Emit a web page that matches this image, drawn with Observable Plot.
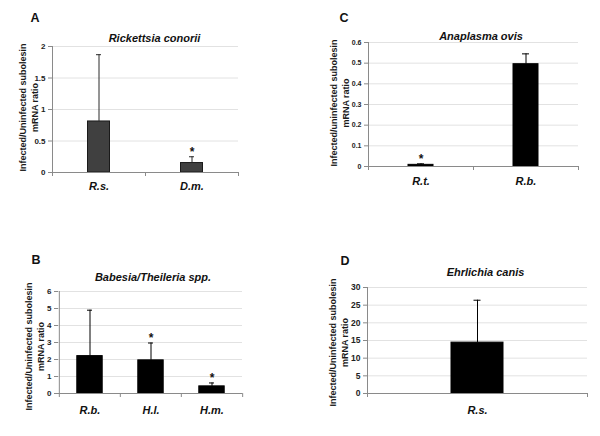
<!DOCTYPE html>
<html><head><meta charset="utf-8">
<script src="https://cdn.jsdelivr.net/npm/d3@7"></script>
<script src="https://cdn.jsdelivr.net/npm/@observablehq/plot@0.6"></script>
<style>
body{margin:0;background:#fff}
#fig{position:relative;width:600px;height:436px;background:#fff;overflow:hidden}
#fig svg{position:absolute}
</style></head><body><div id="fig"></div>
<script>
// ---- Panel A: Rickettsia conorii ----
const catsA = ["R.s.", "D.m."];
const meansA = [0.81, 0.15];
const errsA = [1.06, 0.10];
const starsA = [false, true];
const ticksA = [0, 0.5, 1, 1.5, 2];

// ---- Panel B: Babesia/Theileria spp. ----
const catsB = ["R.b.", "H.l.", "H.m."];
const meansB = [2.2, 1.95, 0.42];
const errsB = [2.7, 1.02, 0.2];
const starsB = [false, true, true];
const ticksB = [0, 1, 2, 3, 4, 5, 6];

// ---- Panel C: Anaplasma ovis ----
const catsC = ["R.t.", "R.b."];
const meansC = [0.008, 0.495];
const errsC = [0.005, 0.05];
const starsC = [true, false];
const ticksC = [0, 0.1, 0.2, 0.3, 0.4, 0.5, 0.6];

// ---- Panel D: Ehrlichia canis ----
const catsD = ["R.s."];
const meansD = [14.4];
const errsD = [12.0];
const starsD = [false];
const ticksD = [0, 5, 10, 15, 20, 25, 30];

const FONT = "'Liberation Sans', Arial, Helvetica, sans-serif";

function panel(o) {
  const data = o.cats.map((c, i) => ({cat: c, mean: o.means[i], top: o.means[i] + o.errs[i], star: o.stars[i]}));
  const innerW = o.width - o.margin[3] - o.margin[1];
  const half = innerW / o.cats.length / 2;
  const ymax = o.ticks[o.ticks.length - 1];
  const first = o.cats[0], last = o.cats[o.cats.length - 1];
  const svg = Plot.plot({
    width: o.width, height: o.height,
    marginTop: o.margin[0], marginRight: o.margin[1], marginBottom: o.margin[2], marginLeft: o.margin[3],
    style: {fontFamily: FONT, background: "transparent", overflow: "visible", color: "#1a1a1a"},
    x: {domain: o.cats, padding: 0, label: null},
    y: {domain: [0, ymax], label: null},
    marks: [
      Plot.ruleY(o.ticks.slice(1), {stroke: "#e2e2e2"}),
      Plot.barY(data, {x: "cat", y: "mean", fill: o.fill, stroke: o.barStroke, strokeWidth: 1, insetLeft: o.barInset, insetRight: o.barInset}),
      Plot.ruleX(data, {x: "cat", y1: "mean", y2: "top", stroke: o.errStroke}),
      Plot.tickY(data, {x: "cat", y: "top", stroke: o.errStroke, insetLeft: o.capInset, insetRight: o.capInset}),
      Plot.text(data.filter(d => d.star), {x: "cat", y: "top", text: () => "*", dy: -5, fontSize: 12, fontWeight: "bold", fill: "#111"}),
      Plot.ruleY([0], {stroke: "#8a8a8a"}),
      Plot.ruleX([first], {x: d => d, y1: 0, y2: ymax, dx: -half, stroke: "#8a8a8a"}),
      Plot.ruleX(o.cats, {x: d => d, y1: 0, y2: 0, insetBottom: -4, dx: -half, stroke: "#8a8a8a"}),
      Plot.ruleX([last], {x: d => d, y1: 0, y2: 0, insetBottom: -4, dx: half, stroke: "#8a8a8a"}),
      Plot.axisY({ticks: o.ticks, tickFormat: d => String(d), tickSize: 4, tickPadding: 3, stroke: "#8a8a8a", fill: "#222", fontSize: o.tickFont, fontWeight: "bold", label: null}),
      Plot.axisX({tickSize: 0, tickPadding: o.catPad, fontSize: 11, fontWeight: "bold", fontStyle: "italic", fill: "#111", label: null}),
      Plot.text([o.title], {frameAnchor: "top", dx: o.titleD[0], dy: o.titleD[1], fontSize: 11, fontWeight: "bold", fontStyle: "italic", fill: "#111"}),
      Plot.text([o.letter], {frameAnchor: "top-left", dx: o.letterD[0], dy: o.letterD[1], fontSize: 12.5, fontWeight: "bold", fill: "#111"}),
      Plot.text([o.ylabel], {frameAnchor: "left", textAnchor: "middle", rotate: -90, dx: o.ylabD[0], dy: o.ylabD[1], fontSize: 9, fontWeight: "bold", lineHeight: 1.3, fill: "#1a1a1a"})
    ]
  });
  svg.style.left = o.left + "px";
  svg.style.top = o.top + "px";
  document.getElementById("fig").appendChild(svg);
}

panel({letter: "A", title: "Rickettsia conorii", ylabel: "Infected/Uninfected subolesin\nmRNA ratio",
  cats: catsA, means: meansA, errs: errsA, stars: starsA, ticks: ticksA,
  fill: "#404040", barStroke: "#1a1a1a", errStroke: "#2a2a2a",
  left: 0, top: 0, width: 300, height: 200, margin: [46, 62, 28, 52],
  barInset: 35.5, capInset: 44, tickFont: 8, catPad: 10,
  titleD: [9, -12], letterD: [-22, -33], ylabD: [-24, -2]});

panel({letter: "B", title: "Babesia/Theileria spp.", ylabel: "Infected/Uninfected subolesin\nmRNA ratio",
  cats: catsB, means: meansB, errs: errsB, stars: starsB, ticks: ticksB,
  fill: "#000", barStroke: "#000", errStroke: "#000",
  left: 0, top: 220, width: 300, height: 216, margin: [71, 58, 43, 58],
  barInset: 17.8, capInset: 28, tickFont: 8, catPad: 13,
  titleD: [2.5, -18], letterD: [-27, -36], ylabD: [-24, 4]});

panel({letter: "C", title: "Anaplasma ovis", ylabel: "Infected/uninfected subolesin\nmRNA ratio",
  cats: catsC, means: meansC, errs: errsC, stars: starsC, ticks: ticksC,
  fill: "#000", barStroke: "#000", errStroke: "#000",
  left: 300, top: 0, width: 300, height: 200, margin: [42, 22, 34, 68],
  barInset: 40, capInset: 49, tickFont: 7, catPad: 11,
  titleD: [7.5, -10], letterD: [-29, -29], ylabD: [-29, -1.5]});

panel({letter: "D", title: "Ehrlichia canis", ylabel: "Infected/Uninfected subolesin\nmRNA ratio",
  cats: catsD, means: meansD, errs: errsD, stars: starsD, ticks: ticksD,
  fill: "#000", barStroke: "#000", errStroke: "#000",
  left: 300, top: 220, width: 300, height: 216, margin: [67, 13, 43, 67],
  barInset: 84, capInset: 106.5, tickFont: 8.5, catPad: 13,
  titleD: [8, -19], letterD: [-27, -31], ylabD: [-29, 2]});
</script>
</body></html>
